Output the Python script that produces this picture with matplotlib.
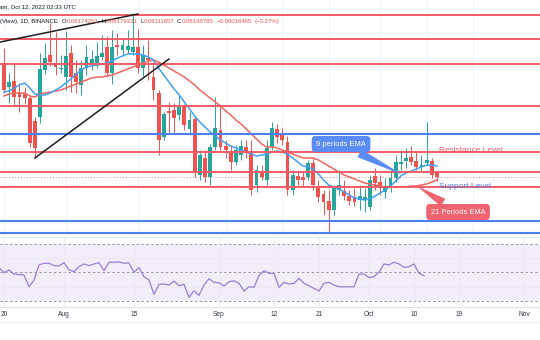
import matplotlib
matplotlib.use("Agg")
import matplotlib.pyplot as plt
import matplotlib.dates as mdates
from matplotlib.lines import Line2D
import numpy as np
import pandas as pd

plt.rcParams['font.family'] = ['Liberation Sans', 'DejaVu Sans']

# Daily candles, 20 Jul - 12 Oct 2022
days = pd.date_range("2022-07-20", "2022-10-12", freq="D")

open_ = [0.06939, 0.06771, 0.06813, 0.06729, 0.06722, 0.06694, 0.06533, 0.06561, 0.06890, 0.06995,
         0.06932, 0.06897, 0.06841, 0.07009, 0.06869, 0.06785, 0.06904, 0.06932, 0.06939, 0.06981,
         0.07051, 0.06869, 0.07065, 0.07030, 0.07030, 0.07016, 0.07051, 0.06904, 0.06974, 0.06841,
         0.06729, 0.06421, 0.06603, 0.06610, 0.06575, 0.06631, 0.06477, 0.06547, 0.06155, 0.06274,
         0.06141, 0.06351, 0.06470, 0.06358, 0.06316, 0.06246, 0.06295, 0.06351, 0.06316, 0.06085,
         0.06183, 0.06120, 0.06351, 0.06477, 0.06449, 0.06386, 0.06050, 0.06148, 0.06141, 0.06141,
         0.06239, 0.06071, 0.06022, 0.05973, 0.05910, 0.06050, 0.06043, 0.06008, 0.06001, 0.05980,
         0.05980, 0.05931, 0.06148, 0.06106, 0.06036, 0.06078, 0.06134, 0.06232, 0.06253, 0.06281,
         0.06253, 0.06211, 0.06239, 0.06253, 0.06174251]
high = [0.07044, 0.06869, 0.06939, 0.06799, 0.06771, 0.06708, 0.06561, 0.07009, 0.07079, 0.07219,
        0.07156, 0.06995, 0.07163, 0.07065, 0.06960, 0.06960, 0.07065, 0.07030, 0.07086, 0.07135,
        0.07128, 0.07170, 0.07149, 0.07114, 0.07170, 0.07289, 0.07177, 0.07065, 0.07100, 0.06946,
        0.06750, 0.06596, 0.06666, 0.06659, 0.06715, 0.06652, 0.06596, 0.06568, 0.06330, 0.06330,
        0.06372, 0.06701, 0.06631, 0.06400, 0.06365, 0.06365, 0.06400, 0.06400, 0.06400, 0.06225,
        0.06225, 0.06400, 0.06526, 0.06512, 0.06484, 0.06428, 0.06190, 0.06176, 0.06176, 0.06260,
        0.06274, 0.06120, 0.06050, 0.06050, 0.06085, 0.06190, 0.06120, 0.06050, 0.06064, 0.06085,
        0.06064, 0.06155, 0.06204, 0.06155, 0.06134, 0.06190, 0.06295, 0.06330, 0.06344, 0.06358,
        0.06316, 0.06295, 0.06526, 0.06274, 0.06179331]
low = [0.06729, 0.06659, 0.06645, 0.06596, 0.06652, 0.06351, 0.06274, 0.06519, 0.06862, 0.06918,
       0.06855, 0.06869, 0.06750, 0.06736, 0.06729, 0.06715, 0.06855, 0.06890, 0.06904, 0.06960,
       0.06848, 0.06792, 0.06995, 0.06995, 0.07002, 0.06995, 0.06869, 0.06848, 0.06820, 0.06680,
       0.06295, 0.06400, 0.06449, 0.06449, 0.06540, 0.06470, 0.06435, 0.06141, 0.06120, 0.06106,
       0.06085, 0.06330, 0.06330, 0.06274, 0.06190, 0.06225, 0.06260, 0.06274, 0.06015, 0.06036,
       0.06120, 0.06085, 0.06330, 0.06379, 0.06365, 0.06015, 0.06015, 0.06085, 0.06078, 0.06120,
       0.06050, 0.05966, 0.05875, 0.05756, 0.05875, 0.06015, 0.05980, 0.05945, 0.05938, 0.05910,
       0.05896, 0.05910, 0.06050, 0.06015, 0.05994, 0.06036, 0.06106, 0.06190, 0.06204, 0.06225,
       0.06190, 0.06176, 0.06225, 0.06134, 0.06111657]
close = [0.06750, 0.06806, 0.06701, 0.06701, 0.06694, 0.06379, 0.06344, 0.06897, 0.06974, 0.06946,
         0.06911, 0.06904, 0.06988, 0.06841, 0.06806, 0.06904, 0.06981, 0.06967, 0.06988, 0.07009,
         0.06869, 0.07051, 0.07051, 0.07065, 0.07058, 0.07051, 0.06904, 0.06995, 0.06960, 0.06750,
         0.06400, 0.06582, 0.06589, 0.06554, 0.06631, 0.06505, 0.06540, 0.06176, 0.06295, 0.06141,
         0.06351, 0.06484, 0.06351, 0.06330, 0.06246, 0.06330, 0.06358, 0.06309, 0.06050, 0.06190,
         0.06141, 0.06344, 0.06484, 0.06421, 0.06400, 0.06050, 0.06155, 0.06120, 0.06120, 0.06239,
         0.06085, 0.06001, 0.05966, 0.05910, 0.06064, 0.06085, 0.06008, 0.05973, 0.05966, 0.06008,
         0.06001, 0.06120, 0.06099, 0.06064, 0.06071, 0.06134, 0.06246, 0.06246, 0.06274, 0.06246,
         0.06211, 0.06225, 0.06260, 0.06155, 0.06138785]

ema9 = [0.06736, 0.06743, 0.06764, 0.06785, 0.06799, 0.06764, 0.06722, 0.06715, 0.06715, 0.06729,
        0.06750, 0.06771, 0.06799, 0.06827, 0.06862, 0.06890, 0.06911, 0.06918, 0.06925, 0.06932,
        0.06939, 0.06953, 0.06974, 0.06988, 0.07002, 0.07002, 0.07002, 0.06995, 0.06981, 0.06960,
        0.06904, 0.06855, 0.06806, 0.06757, 0.06715, 0.06666, 0.06617, 0.06568, 0.06526, 0.06491,
        0.06456, 0.06428, 0.06400, 0.06379, 0.06358, 0.06344, 0.06330, 0.06316, 0.06302, 0.06288,
        0.06295, 0.06302, 0.06316, 0.06323, 0.06316, 0.06302, 0.06274, 0.06246, 0.06218, 0.06211,
        0.06197, 0.06162, 0.06120, 0.06085, 0.06071, 0.06057, 0.06036, 0.06015, 0.05994, 0.05987,
        0.05980, 0.05987, 0.06008, 0.06029, 0.06050, 0.06078, 0.06113, 0.06148, 0.06169, 0.06183,
        0.06197, 0.06211, 0.06225, 0.06225, 0.06218]
ema21 = [0.06708, 0.06722, 0.06729, 0.06729, 0.06729, 0.06708, 0.06701, 0.06722, 0.06729, 0.06736,
         0.06743, 0.06750, 0.06764, 0.06778, 0.06792, 0.06806, 0.06820, 0.06834, 0.06841, 0.06841,
         0.06848, 0.06855, 0.06869, 0.06883, 0.06897, 0.06911, 0.06925, 0.06939, 0.06953, 0.06960,
         0.06946, 0.06925, 0.06904, 0.06883, 0.06862, 0.06841, 0.06813, 0.06785, 0.06750, 0.06722,
         0.06694, 0.06666, 0.06638, 0.06603, 0.06575, 0.06540, 0.06512, 0.06477, 0.06442, 0.06407,
         0.06372, 0.06351, 0.06351, 0.06344, 0.06330, 0.06316, 0.06302, 0.06288, 0.06274, 0.06274,
         0.06274, 0.06260, 0.06239, 0.06218, 0.06197, 0.06176, 0.06155, 0.06141, 0.06127, 0.06113,
         0.06099, 0.06092, 0.06085, 0.06078, 0.06071, 0.06071, 0.06071, 0.06071, 0.06071, 0.06078,
         0.06078, 0.06085, 0.06092, 0.06106, 0.06120]

# RSI(14), one extra day on the left
rsi_days = pd.date_range("2022-07-19", "2022-10-12", freq="D")
rsi = [53.5,
       49.9, 51.8, 48.9, 48.5, 48.2, 40.0, 44.7, 55.3, 56.5, 56.5,
       54.8, 54.6, 56.9, 51.8, 50.6, 54.1, 56.0, 54.8, 56.0, 56.9,
       51.3, 57.2, 57.2, 57.4, 56.5, 56.7, 50.1, 53.4, 47.1, 44.7,
       34.7, 41.7, 41.9, 41.2, 44.0, 40.7, 41.7, 32.6, 37.2, 34.0,
       41.2, 45.6, 43.1, 42.8, 40.5, 43.5, 44.2, 42.4, 37.0, 40.0,
       39.6, 47.8, 51.3, 49.4, 49.4, 39.6, 43.1, 41.9, 42.4, 45.9,
       42.4, 40.7, 38.9, 37.0, 42.4, 43.1, 41.2, 40.0, 40.0, 40.0,
       40.0, 48.9, 48.9, 46.4, 47.1, 50.1, 56.0, 55.3, 57.2, 56.0,
       53.6, 54.1, 56.0, 49.4, 47.8]

# horizontal levels drawn on the chart
red_levels = [0.07275, 0.07107, 0.06932, 0.06638, 0.06316, 0.06176, 0.06071]
blue_levels = [0.06442, 0.05831, 0.05749]
last_price = 0.06138785

# trend lines: (date, price) end points
trend_up_top = [("2022-07-19", 0.07084), ("2022-08-15", 0.07282)]
trend_up_low = [("2022-07-26", 0.06274), ("2022-08-21", 0.06967)]

tick_dates = ["2022-07-20", "2022-08-01", "2022-08-15", "2022-09-01", "2022-09-12",
              "2022-09-21", "2022-10-01", "2022-10-10", "2022-10-19", "2022-11-01"]
tick_labels = ["20", "Aug", "15", "Sep", "12", "21", "Oct", "10", "19", "Nov"]

TEAL = "#26a69a"
RED = "#ef5350"
INK = "#131722"
LVL_RED = "#f45b66"
LVL_BLUE = "#4d7ff2"
W, H = 540, 340

x = mdates.date2num(days)
t0 = x[0]
o, h, l, c = map(np.array, (open_, high, low, close))

fig = plt.figure(figsize=(W / 100, H / 100), dpi=100)
fig.patch.set_facecolor("white")

ax = fig.add_axes([0, 1 - 236 / H, 1, 236 / H])
ax.set_xlim(t0 - 0.776, t0 + 103.98)
ax.set_ylim(0.05728, 0.0738)
ax.set_xticks(mdates.date2num(pd.to_datetime(tick_dates)))
ax.set_yticks([])
ax.tick_params(length=0, labelbottom=False)
ax.grid(axis="x", color="#f0f3fa", lw=0.8)
for s in ax.spines.values():
    s.set_visible(False)

# candles
cols = np.where(c >= o, TEAL, RED)
ax.vlines(x, l, h, colors=cols, lw=0.7, zorder=2)
ax.bar(x, np.maximum(np.abs(c - o), 0.00004), bottom=np.minimum(o, c), width=0.74,
       color=cols, linewidth=0, zorder=2)

# moving averages
ax.plot(x, ema21, color="#f0645f", lw=1.1, zorder=2.5)
ax.plot(x, ema9, color="#42a0f0", lw=1.1, zorder=2.6)

# levels
for lv in red_levels:
    ax.axhline(lv, color=LVL_RED, lw=1.4, zorder=3)
for lv in blue_levels:
    ax.axhline(lv, color=LVL_BLUE, lw=1.5, zorder=3)
ax.axhline(last_price, color=LVL_RED, lw=0.7, ls=(0, (1, 2)), alpha=0.7, zorder=3)

# trend lines
for seg in (trend_up_top, trend_up_low):
    xs = mdates.date2num(pd.to_datetime([p[0] for p in seg]))
    ax.plot(xs, [p[1] for p in seg], color="#1e1e1e", lw=1.1, zorder=4)

# level captions
ax.text(t0 + 84.4, 0.06330, "Resistance Level", color=LVL_RED, fontsize=6.0,
        va="center", ha="left", zorder=5)
ax.text(t0 + 84.4, 0.06074, "Support Level", color=LVL_BLUE, fontsize=6.0,
        va="center", ha="left", zorder=5)

# callouts for the two averages
ax.annotate("9 periods EMA", xy=(t0 + 77.4, 0.06155), xytext=(t0 + 65.4, 0.06372),
            color="white", fontsize=5.4, ha="center", va="center", zorder=6,
            bbox=dict(boxstyle="round,pad=0.6,rounding_size=0.5", fc="#5b8cf3", ec="none"),
            arrowprops=dict(arrowstyle="wedge,tail_width=0.7", fc="#5b8cf3", ec="none",
                            mutation_scale=9, shrinkB=0))
ax.annotate("21 Periods EMA", xy=(t0 + 80.1, 0.06078), xytext=(t0 + 88.1, 0.05896),
            color="white", fontsize=5.4, ha="center", va="center", zorder=6,
            bbox=dict(boxstyle="round,pad=0.6,rounding_size=0.5", fc="#f0646f", ec="none"),
            arrowprops=dict(arrowstyle="wedge,tail_width=0.7", fc="#f0646f", ec="none",
                            mutation_scale=9, shrinkB=0))

# RSI pane
axr = fig.add_axes([0, 1 - 307 / H, 1, 70 / H])
axr.set_xlim(t0 - 0.8, t0 + 107.2)
axr.set_ylim(25.8, 74.9)
axr.axhspan(30, 70, color="#f1edf9", lw=0, zorder=0)
for lv in (70, 50, 30):
    axr.axhline(lv, color="#9598a1", lw=0.7, ls=(0, (2.5, 2.5)), zorder=1)
axr.set_yticks([40, 60])
axr.grid(color="#ebe8f3", lw=0.6, zorder=0.5)
axr.plot(mdates.date2num(rsi_days), rsi, color="#9a7ed6", lw=0.9, zorder=2)
axr.set_xticks(mdates.date2num(pd.to_datetime(tick_dates)))
axr.set_xticklabels(tick_labels)
axr.tick_params(axis="x", length=0, pad=3.2, labelsize=4.8, labelcolor="#363a45")
axr.tick_params(axis="y", length=0, labelleft=False)
for s in axr.spines.values():
    s.set_visible(False)
axr.spines["bottom"].set_visible(True)
axr.spines["bottom"].set_color("#e0e3eb")
axr.spines["bottom"].set_linewidth(0.8)

# pane separators
fig.add_artist(Line2D([0, 1], [1 - 236.5 / H] * 2, color="#e0e3eb", lw=0.7))
fig.add_artist(Line2D([0, 1], [1 - 321.5 / H] * 2, color="#eceef2", lw=0.7))

# header legend: pieces laid out one after another
hdr = dict(fontsize=4.3, va="center", ha="left")
fig.text(-1 / W, 1 - 7 / H, "am, Oct 12, 2022 02:33 UTC", color=INK, **hdr)

parts = [("(View), 1D, BINANCE", INK, 4.0),
         ("O", INK, 0.3), ("0.06174251", RED, 2.5),
         ("H", INK, 0.3), ("0.06179331", RED, 2.5),
         ("L", INK, 0.3), ("0.06111657", RED, 2.5),
         ("C", INK, 0.3), ("0.06138785", RED, 3.5),
         ("\u22120.00016465", RED, 2.5), ("(\u22120.27%)", RED, 0)]
renderer = fig.canvas.get_renderer()
cur = 0.0
for s, col, gap in parts:
    t = fig.text(cur / W, 1 - 21.5 / H, s, color=col, **hdr)
    cur += t.get_window_extent(renderer).width + gap

fig.savefig("out.png", dpi=100)
